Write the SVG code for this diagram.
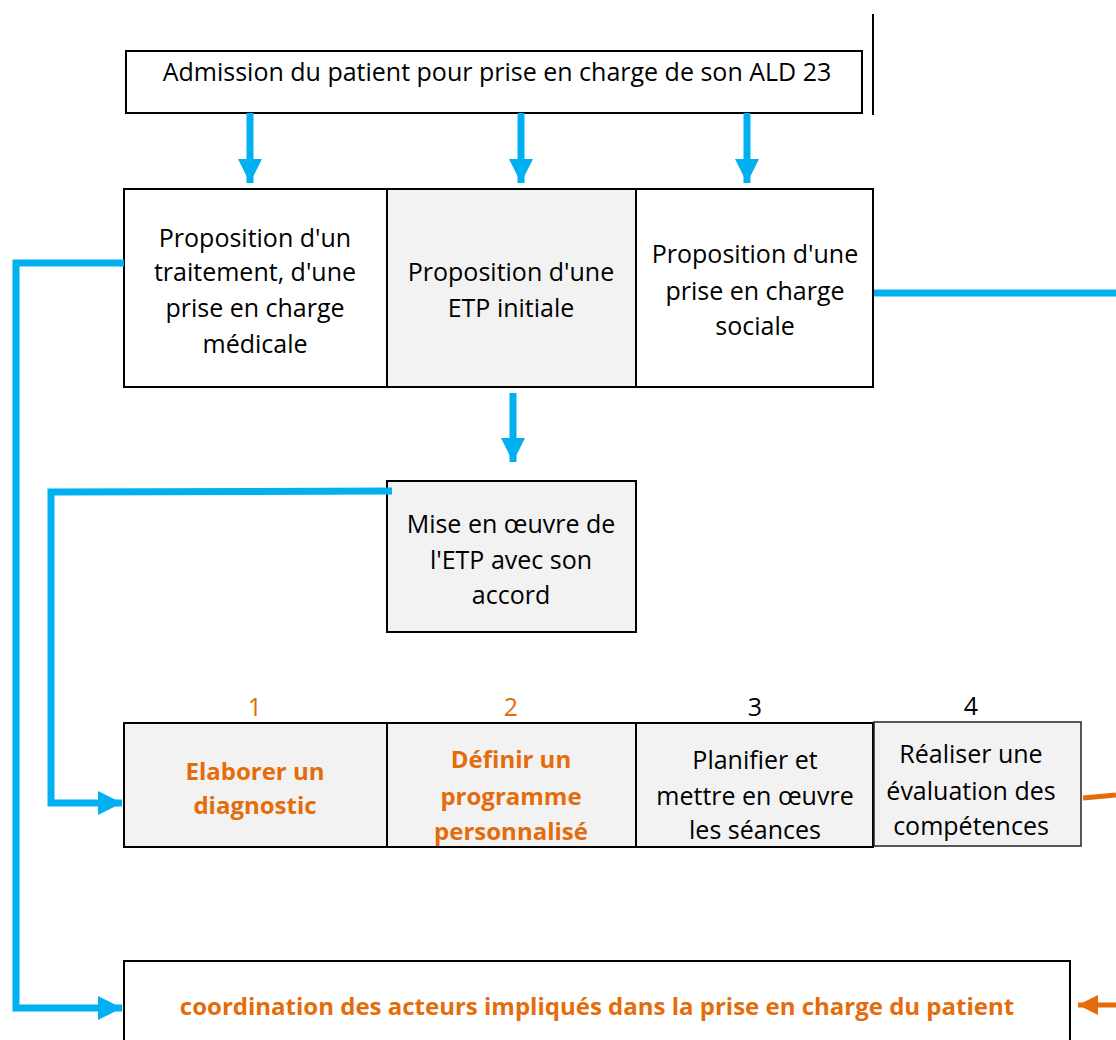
<svg xmlns="http://www.w3.org/2000/svg" width="1116" height="1040" viewBox="0 0 1116 1040">
<defs>
<style>
.box{stroke:#000;stroke-width:2}
.w{fill:#fff}
.g{fill:#f2f2f2}
text{font-family:"Open Sans","Liberation Sans",sans-serif;font-size:25px;fill:#000;text-anchor:middle;dominant-baseline:central}
.o{fill:#e46c0a;font-weight:bold;font-size:24px}
.on{fill:#e46c0a}
.blue{stroke:#00b0f0;stroke-width:7;fill:none}
.orange{stroke:#e46c0a;stroke-width:5;fill:none}
</style>
<marker id="ab" viewBox="0 0 10 10" refX="10" refY="5" markerUnits="userSpaceOnUse" markerWidth="24" markerHeight="24" orient="auto"><path d="M0,0L10,5L0,10z" fill="#00b0f0"/></marker>
<marker id="ao" viewBox="0 0 10 10" refX="10" refY="5" markerUnits="userSpaceOnUse" markerWidth="20" markerHeight="22" orient="auto"><path d="M0,0L10,5L0,10z" fill="#e46c0a"/></marker>
</defs>
<rect width="1116" height="1040" fill="#fff"/>
<line x1="873" y1="14" x2="873" y2="115" stroke="#000" stroke-width="2"/>
<g id="admission"><rect class="box w" x="126" y="51" width="736" height="62"/><text x="497" y="71">Admission du patient pour prise en charge de son ALD 23</text></g>
<g id="medicale"><rect class="box w" x="124" y="189" width="263" height="198"/><text x="255" y="237">Proposition d'un</text><text x="255" y="271">traitement, d'une</text><text x="255" y="307">prise en charge</text><text x="255" y="343">médicale</text></g>
<g id="etp"><rect class="box g" x="387" y="189" width="249" height="198"/><text x="511" y="271">Proposition d'une</text><text x="511" y="307">ETP initiale</text></g>
<g id="sociale"><rect class="box w" x="636" y="189" width="237" height="198"/><text x="755" y="253">Proposition d'une</text><text x="755" y="290">prise en charge</text><text x="755" y="325">sociale</text></g>
<g id="mise"><rect class="box g" x="387" y="481" width="249" height="151"/><text x="511" y="523">Mise en œuvre de</text><text x="511" y="559">l'ETP avec son</text><text x="511" y="594">accord</text></g>
<g id="n1"><text class="on" x="255" y="706">1</text></g>
<g id="n2"><text class="on" x="511" y="706">2</text></g>
<g id="n3"><text x="755" y="706">3</text></g>
<g id="n4"><text x="971" y="705">4</text></g>
<g id="diagnostic"><rect class="box g" x="124" y="723" width="263" height="124"/><text class="o" x="255" y="770">Elaborer un</text><text class="o" x="255" y="804">diagnostic</text></g>
<g id="programme"><rect class="box g" x="387" y="723" width="249" height="124"/><text class="o" x="511" y="758">Définir un</text><text class="o" x="511" y="795">programme</text><text class="o" x="511" y="830">personnalisé</text></g>
<g id="seances"><rect class="box g" x="636" y="723" width="237" height="124"/><text x="755" y="759">Planifier et</text><text x="755" y="795">mettre en œuvre</text><text x="755" y="829">les séances</text></g>
<g id="evaluation"><rect x="874" y="722" width="207" height="124" fill="#f2f2f2" stroke="#222" stroke-width="1.5"/><text x="971" y="753">Réaliser une</text><text x="971" y="790">évaluation des</text><text x="971" y="825">compétences</text></g>
<g id="coordination"><rect class="box w" x="124" y="961" width="946" height="90"/><text class="o" x="597" y="1005">coordination des acteurs impliqués dans la prise en charge du patient</text></g>
<g id="connectors">
<line class="blue" x1="250" y1="113" x2="250" y2="183" marker-end="url(#ab)"/>
<line class="blue" x1="521" y1="113" x2="521" y2="183" marker-end="url(#ab)"/>
<line class="blue" x1="747" y1="113" x2="747" y2="183" marker-end="url(#ab)"/>
<line class="blue" x1="513" y1="393" x2="513" y2="462" marker-end="url(#ab)"/>
<line class="blue" x1="874" y1="293" x2="1116" y2="293"/>
<polyline class="blue" points="124,263 16,263 16,1008 122,1008" marker-end="url(#ab)"/>
<polyline class="blue" points="392,491 51,492 51,803 122,803" marker-end="url(#ab)"/>
<line class="orange" x1="1083" y1="798" x2="1116" y2="795"/>
<line class="orange" x1="1116" y1="1005" x2="1078" y2="1005" marker-end="url(#ao)"/>
</g>
</svg>
